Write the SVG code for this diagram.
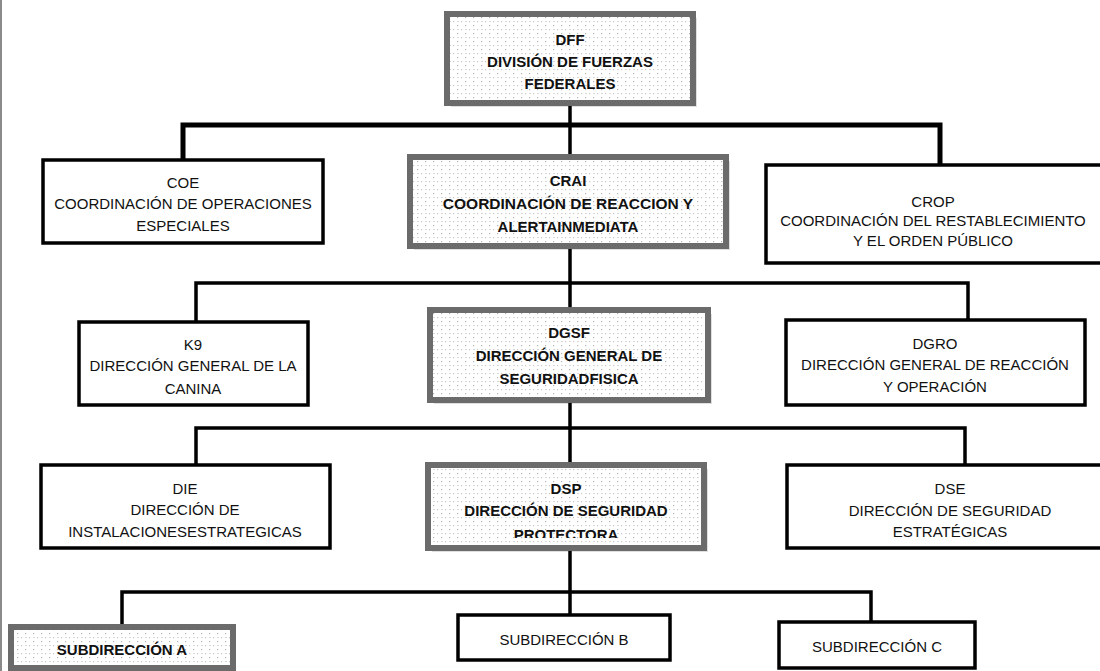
<svg xmlns="http://www.w3.org/2000/svg" width="1100" height="671" viewBox="0 0 1100 671">
<style>
.t{font-family:"Liberation Sans",Arial,sans-serif;font-size:15px;text-anchor:middle;fill:#111}
.b{font-weight:bold}
.plain{fill:#fff;stroke:#000;stroke-width:3.5}
.gray{fill:url(#dots);stroke:#6b6b6b;stroke-width:6}
.shadow{fill:#000;opacity:0.12}
.con{fill:none;stroke:#000;stroke-width:3.5;stroke-linejoin:miter}
</style>
<defs>
<pattern id="dots" width="8" height="8" patternUnits="userSpaceOnUse">
<rect width="8" height="8" fill="#fff"/>
<rect x="1" y="1" width="1.2" height="1.2" fill="#b5b5b5"/>
<rect x="5" y="5" width="1.2" height="1.2" fill="#c8c8c8"/>
<rect x="1" y="5" width="2" height="0.8" fill="#d0d0d0"/>
</pattern>
<clipPath id="dspclip"><rect x="428" y="465" width="276" height="73"/></clipPath>
</defs>
<rect width="1100" height="671" fill="#fff"/>
<line x1="1" y1="0" x2="1" y2="671" stroke="#8a8a8a" stroke-width="2"/>

<g id="connectors">
<path class="con" d="M570 103 V125" />
<path class="con" style="stroke-width:5" d="M183 160 V125 H940 V165"/>
<path class="con" d="M570 125 V157"/>
<path class="con" d="M570 246 V283"/>
<path class="con" d="M196 322 V283 H968 V320"/>
<path class="con" d="M570 283 V310"/>
<path class="con" d="M570 400 V428"/>
<path class="con" d="M196 465 V428 H965 V465"/>
<path class="con" d="M570 428 V465"/>
<path class="con" d="M570 548 V592"/>
<path class="con" d="M122 626 V592 H871 V622"/>
<path class="con" d="M570 592 V615"/>
</g>

<g id="DFF">
<rect class="shadow" x="451" y="18" width="246" height="89"/>
<rect class="gray" x="447" y="14" width="246" height="89"/>
<text class="t b" x="570" y="45">DFF</text>
<text class="t b" x="570" y="67">DIVISIÓN DE FUERZAS</text>
<text class="t b" x="570" y="89">FEDERALES</text>
</g>

<g id="COE">
<rect class="plain" x="43" y="160" width="280" height="83"/>
<text class="t" x="183" y="188">COE</text>
<text class="t" x="183" y="209">COORDINACIÓN DE OPERACIONES</text>
<text class="t" x="183" y="231">ESPECIALES</text>
</g>

<g id="CRAI">
<rect class="shadow" x="414" y="161" width="316" height="89"/>
<rect class="gray" x="410" y="157" width="316" height="89"/>
<text class="t b" x="568" y="186">CRAI</text>
<text class="t b" x="568" y="209" style="font-size:15.5px">COORDINACIÓN DE REACCION Y</text>
<text class="t b" x="568" y="232">ALERTAINMEDIATA</text>
</g>

<g id="CROP">
<rect class="plain" x="766" y="165" width="340" height="98"/>
<text class="t" x="933" y="207">CROP</text>
<text class="t" x="933" y="226">COORDINACIÓN DEL RESTABLECIMIENTO</text>
<text class="t" x="933" y="246">Y EL ORDEN PÚBLICO</text>
</g>

<g id="K9">
<rect class="plain" x="79" y="322" width="229" height="83"/>
<text class="t" x="193" y="350">K9</text>
<text class="t" x="193" y="371">DIRECCIÓN GENERAL DE LA</text>
<text class="t" x="193" y="394">CANINA</text>
</g>

<g id="DGSF">
<rect class="shadow" x="434" y="314" width="278" height="90"/>
<rect class="gray" x="430" y="310" width="278" height="90"/>
<text class="t b" x="569" y="338">DGSF</text>
<text class="t b" x="569" y="361">DIRECCIÓN GENERAL DE</text>
<text class="t b" x="569" y="384">SEGURIDADFISICA</text>
</g>

<g id="DGRO">
<rect class="plain" x="786" y="320" width="299" height="85"/>
<text class="t" x="935" y="349">DGRO</text>
<text class="t" x="935" y="370">DIRECCIÓN GENERAL DE REACCIÓN</text>
<text class="t" x="935" y="392">Y OPERACIÓN</text>
</g>

<g id="DIE">
<rect class="plain" x="41" y="465" width="289" height="83"/>
<text class="t" x="185" y="494">DIE</text>
<text class="t" x="185" y="515">DIRECCIÓN DE</text>
<text class="t" x="185" y="537">INSTALACIONESESTRATEGICAS</text>
</g>

<g id="DSP">
<rect class="shadow" x="432" y="469" width="276" height="83"/>
<rect class="gray" x="428" y="465" width="276" height="83"/>
<text class="t b" x="566" y="494">DSP</text>
<text class="t b" x="566" y="516">DIRECCIÓN DE SEGURIDAD</text>
<text class="t b" x="566" y="540" clip-path="url(#dspclip)">PROTECTORA</text>
</g>

<g id="DSE">
<rect class="plain" x="787" y="465" width="320" height="83"/>
<text class="t" x="950" y="494">DSE</text>
<text class="t" x="950" y="516">DIRECCIÓN DE SEGURIDAD</text>
<text class="t" x="950" y="537">ESTRATÉGICAS</text>
</g>

<g id="SUBA">
<rect class="gray" x="11" y="627" width="222" height="41"/>
<text class="t b" x="122" y="655">SUBDIRECCIÓN A</text>
</g>

<g id="SUBB">
<rect class="plain" x="458" y="615" width="212" height="45"/>
<text class="t" x="564" y="645">SUBDIRECCIÓN B</text>
</g>

<g id="SUBC">
<rect class="plain" x="779" y="622" width="196" height="46"/>
<text class="t" x="877" y="652">SUBDIRECCIÓN C</text>
</g>
</svg>
